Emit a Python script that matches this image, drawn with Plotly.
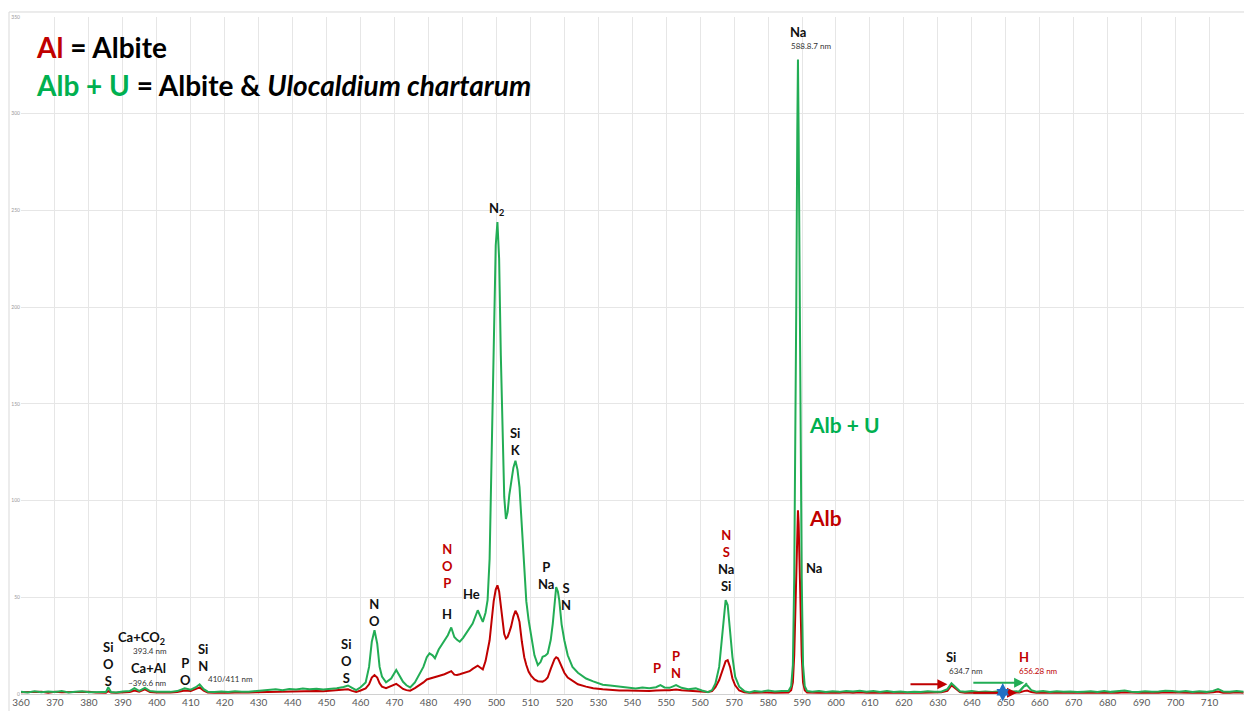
import plotly.graph_objects as go

# ---------------- data ----------------
wavelength = [
    360, 362, 364, 366, 368, 370, 372, 374, 376, 378, 380, 382, 384,
    385, 385.7, 386.5, 388, 390, 392, 393.4, 394.8, 396.5, 398, 400, 402, 404, 406,
    408.2, 410, 411.5, 412.6, 413.8, 415, 417, 419, 421, 423, 425, 427, 429, 431,
    433, 435, 437, 439, 441, 443, 445, 447, 449, 451, 453, 455, 456.3, 457.5, 458.7,
    460, 461.5, 462.5, 463.3, 464.1, 464.9, 465.6, 466.3, 467.5, 469, 470.5, 471.5,
    472.5, 473.5, 474.6, 476, 477.4, 478.5, 479.5, 480.3, 481.2, 481.9, 483, 484.7,
    485.7, 486.7, 487.6, 488.4, 489.2, 490.2, 491.1, 492.1, 493, 494.5, 495.3, 496,
    496.8, 497.4, 498, 498.6, 499.2, 499.8, 500.3, 500.8, 501.3, 501.8, 502.3, 502.8,
    503.3, 503.8, 504.3, 505, 505.6, 506.2, 506.8, 507.5, 508.2, 508.8, 509.5, 510.2,
    511.2, 512.2, 513.0, 513.6, 514.4, 515.1, 516, 516.6, 517.1, 517.6, 518.1, 518.5,
    519.2, 520, 521, 522.4, 524, 526.4, 528.5, 531.3, 533.5, 536.2, 538.5, 541, 543,
    545, 547, 548.3, 549.5, 551, 552.9, 554.5, 556.5, 558.7, 560.5, 562.3, 563.5,
    564.5, 565.6, 566.5, 567.5, 568.1, 568.8, 569.5, 570.3, 571.5, 573, 574.5, 576,
    578, 580, 582, 584, 586, 586.8, 587.3, 587.7, 588.0, 588.3, 588.6, 588.8, 589.0,
    589.3, 589.6, 589.9, 590.3, 590.8, 591.5, 593, 595, 597, 599, 601, 603, 605, 607,
    609, 611, 613, 615, 617, 619, 621, 623, 625, 627, 629, 631, 632.8, 634, 635.2,
    636.5, 638, 640, 642, 644, 646, 648, 650, 652, 654, 655.3, 656.3, 657.5, 659, 661,
    663, 665, 667, 669, 671, 673, 675, 677, 679, 681, 683, 685, 687, 689, 691, 693,
    695, 697, 699, 701, 703, 705, 707, 709, 711, 712.5, 714, 716, 718, 720,
]

albite_u = [  # green: Albite & Ulocaldium chartarum
    1.2, 0.8, 1.4, 0.9, 1.3, 1.0, 1.5, 0.8, 1.2, 1.4, 0.9, 1.1, 1.0,
    1.0, 3.5, 1.0, 0.8, 1.3, 1.5, 3.0, 1.6, 3.2, 1.5, 1.2, 1.0, 1.1, 1.5,
    3.0, 2.2, 3.5, 5.0, 2.5, 1.2, 1.0, 1.3, 1.0, 1.4, 1.1, 1.2, 1.5, 1.8,
    2.2, 2.5, 2.0, 2.6, 2.3, 2.8, 2.4, 2.7, 2.3, 2.6, 3.0, 3.6, 4.4, 3.2, 2.0,
    3.5, 6.0, 14, 27, 33, 26, 14, 9, 6, 8, 12.4, 9.5,
    6.3, 4.5, 3.4, 6, 10.7, 14, 19, 21, 20, 18.5, 23, 27.8,
    30.4, 34.4, 29.5, 28, 27, 29, 31.3, 33.5, 36.4, 43.3, 40, 37.3,
    42, 48.5, 70, 120, 185, 232, 244, 225, 175, 135, 102, 90.5,
    94, 103, 109, 117, 120.6, 116, 107, 86, 65.6, 48, 38, 31.3,
    20, 15, 16.5, 19.2, 19.8, 21, 28, 36.4, 48, 55.3, 53, 48.5,
    36, 27.8, 20, 14, 11, 8, 6.5, 4.8, 4.4, 3.8, 3.2, 2.9, 3.3,
    3.0, 3.5, 4.6, 3.4, 3.2, 4.6, 3.2, 2.5, 2.9, 1.8, 0.9, 2.0,
    5.5, 14, 30, 48.5, 46, 32, 19.2, 9, 3.8, 1.5, 0.8, 1.5,
    1.2, 1.8, 1.3, 1.6, 1.5, 4, 15, 60, 120, 200, 290, 328, 290,
    200, 120, 60, 15, 4, 1.5, 1.2, 1.6, 1.0, 1.4, 1.1, 1.5, 1.3, 1.7,
    1.2, 1.5, 1.1, 1.6, 1.0, 1.3, 0.9, 1.2, 1.0, 1.4, 1.1, 1.2, 2.5, 5.5, 3.5,
    1.4, 1.2, 1.5, 1.0, 1.3, 1.0, 1.4, 1.1, 1.3, 1.4, 4.0, 4.5, 2.0, 1.2, 1.5,
    1.0, 1.4, 1.1, 1.3, 1.0, 1.2, 1.4, 1.0, 1.5, 1.1, 1.3, 1.8, 1.2, 1.0, 1.4, 1.1,
    1.3, 1.7, 1.6, 1.2, 1.5, 1.0, 1.4, 1.1, 1.6, 2.6, 1.3, 1.2, 1.6, 1.2,
]

albite = [  # red: Albite
    0.9, 1.0, 0.8, 1.1, 0.7, 1.2, 0.9, 1.0, 0.8, 1.0, 1.1, 0.8, 0.9,
    0.7, 1.5, 0.8, 0.6, 0.9, 1.0, 1.8, 1.2, 2.4, 1.0, 0.8, 0.7, 0.8, 1.0,
    1.8, 1.5, 2.5, 3.4, 1.8, 0.8, 0.6, 0.8, 0.7, 0.8, 0.7, 0.8, 0.9, 1.0,
    1.1, 1.3, 1.2, 1.4, 1.3, 1.5, 1.4, 1.5, 1.4, 1.6, 1.8, 2.0, 2.4, 1.6, 1.0,
    1.8, 2.9, 5, 8.5, 9.8, 8.5, 5.5, 3.8, 3.0, 4.0, 5.2, 4.0,
    2.6, 2.0, 1.7, 3.0, 4.6, 6, 7.5, 8, 8.5, 8.8, 9.3, 10.2,
    11, 11.8, 10, 9.8, 10.2, 10.8, 11, 11.8, 13, 14.6, 13.6, 12.7,
    17, 22, 27.8, 38, 48, 54, 56.2, 53, 46, 38, 31, 28.7,
    29.5, 32, 34.7, 40, 43, 41, 37.3, 27, 19, 15, 11.5, 9.5,
    7.5, 6.6, 6.4, 6.4, 7.2, 8.5, 13, 16, 18, 19, 18.5, 17,
    14.5, 11, 8.5, 7.0, 5.0, 3.8, 3.0, 2.4, 2.0, 1.8, 1.8, 1.6, 1.7,
    1.6, 1.8, 2.0, 1.9, 1.9, 2.3, 1.9, 1.7, 1.6, 1.3, 1.0, 1.5,
    3.5, 7.2, 12, 17, 17.5, 14, 8, 4.5, 1.8, 0.9, 0.7, 0.8,
    0.7, 0.8, 0.7, 0.9, 0.8, 2, 6, 20, 40, 65, 88, 95, 88,
    65, 40, 20, 6, 2, 0.8, 0.6, 0.7, 0.6, 0.8, 0.6, 0.9, 0.7, 0.9,
    0.7, 0.8, 0.6, 0.8, 0.6, 0.7, 0.6, 0.7, 0.6, 0.7, 0.8, 0.9, 1.6, 4.5, 2.8,
    1.0, 0.7, 0.8, 0.6, 0.7, 0.6, 0.8, 0.6, 0.7, 0.8, 1.5, 1.8, 1.0, 0.7, 0.8,
    0.6, 0.8, 0.6, 0.7, 0.6, 0.7, 0.8, 0.6, 0.8, 0.7, 0.6, 0.9, 0.7, 0.6, 0.8, 0.7,
    0.6, 0.9, 0.8, 0.7, 0.8, 0.6, 0.8, 0.6, 0.9, 1.3, 0.7, 0.6, 0.9, 0.7,
]

x_ticks = list(range(360, 721, 10))
y_ticks = [0, 50, 100, 150, 200, 250, 300, 350]

RED = "#c00000"
GREEN_LINE = "#22ad55"
GREEN_TXT = "#00b050"
FONT = "Lato"

# ---------------- figure ----------------
fig = go.Figure()
fig.add_trace(go.Scatter(x=wavelength, y=albite, mode="lines",
                         line=dict(color=RED, width=2), name="Alb",
                         showlegend=False))
fig.add_trace(go.Scatter(x=wavelength, y=albite_u, mode="lines",
                         line=dict(color=GREEN_LINE, width=2), name="Alb + U",
                         showlegend=False))

annots = []


def lab(x, y, text, size=13, color="#111111", bold=True, xanchor="center",
        yanchor="middle"):
    t = f"<b>{text}</b>" if bold else text
    annots.append(dict(x=x, y=y, xref="x", yref="y", text=t, showarrow=False,
                       xanchor=xanchor, yanchor=yanchor,
                       font=dict(family=FONT, size=size, color=color)))


def red(s):
    return f"<span style='color:{RED}'>{s}</span>"


# peak labels
lab(588.7, 342.5, "Na")
lab(592.6, 335, "588.8.7 nm", size=8, color="#333333", bold=False)
lab(500.1, 250.5, "N<sub>2</sub>")
lab(505.7, 130.5, "Si<br>K")
lab(567.6, 69.2, red("N") + "<br>" + red("S") + "<br>Na<br>Si")
lab(514.7, 61.5, "P<br>Na")
lab(520.5, 50.2, "S<br>N")
lab(492.8, 51.5, "He")
lab(485.5, 66.0, red("N") + "<br>" + red("O") + "<br>" + red("P"))
lab(485.5, 41.2, "H")
lab(464.1, 42.0, "N<br>O")
lab(455.9, 17.0, "Si<br>O<br>S")
lab(413.6, 19.0, "Si<br>N")
lab(421.6, 7.8, "410/411 nm", size=8, color="#333333", bold=False)
lab(408.4, 11.6, "P<br>O")
lab(397.6, 13.6, "Ca+Al")
lab(397.2, 5.8, "~396.6 nm", size=8, color="#333333", bold=False)
lab(395.6, 29.0, "Ca+CO<sub>2</sub>")
lab(397.9, 22.0, "393.4 nm", size=8, color="#333333", bold=False)
lab(385.9, 15.4, "Si<br>O<br>S")
lab(547.3, 13.4, "P", color=RED)
lab(552.9, 15.3, "P<br>N", color=RED)
lab(633.8, 19.0, "Si")
lab(638.3, 11.8, "634.7 nm", size=8, color="#333333", bold=False)
lab(655.3, 19.0, "H", color=RED)
lab(659.5, 11.8, "656.28 nm", size=8, color=RED, bold=False)
lab(593.6, 65.4, "Na")
lab(591.6, 139.5, "Alb + U", size=21, color=GREEN_TXT, xanchor="left")
lab(591.6, 91.0, "Alb", size=21, color=RED, xanchor="left")

# key in the upper left
annots.append(dict(x=0.011, y=0.956, xref="paper", yref="paper", xanchor="left",
                   yanchor="middle", showarrow=False,
                   text=f"<b><span style='color:{RED}'>Al</span> = Albite</b>",
                   font=dict(family=FONT, size=28, color="#000000")))
annots.append(dict(x=0.011, y=0.900, xref="paper", yref="paper", xanchor="left",
                   yanchor="middle", showarrow=False,
                   text=(f"<b><span style='color:{GREEN_TXT}'>Alb + U</span> = "
                         "Albite &amp; <i>Ulocaldium chartarum</i></b>"),
                   font=dict(family=FONT, size=28, color="#000000")))

# arrows
annots.append(dict(x=632.8, y=5.1, ax=621.5, ay=5.1, xref="x", yref="y",
                   axref="x", ayref="y", text="", showarrow=True, arrowhead=2,
                   arrowsize=1, arrowwidth=2, arrowcolor=RED))
annots.append(dict(x=655.4, y=5.8, ax=640.0, ay=5.8, xref="x", yref="y",
                   axref="x", ayref="y", text="", showarrow=True, arrowhead=2,
                   arrowsize=1, arrowwidth=2, arrowcolor=GREEN_LINE))
annots.append(dict(x=653.3, y=0.6, ax=640.0, ay=0.6, xref="x", yref="y",
                   axref="x", ayref="y", text="", showarrow=True, arrowhead=2,
                   arrowsize=1, arrowwidth=2, arrowcolor=RED))
annots.append(dict(x=649.1, y=-0.011, ax=0, ay=-20, xref="x", yref="paper",
                   text="", showarrow=True, arrowhead=2, startarrowhead=2,
                   arrowside="end+start", arrowsize=1, arrowwidth=2.5,
                   arrowcolor="#1f6fc4"))

fig.add_shape(type="line", xref="x", yref="y", x0=653.8, y0=0.9, x1=656.2, y1=5.6,
              line=dict(color=GREEN_LINE, width=2))
# chart area border (top and left visible)
fig.add_shape(type="line", xref="paper", yref="paper", x0=-0.0098, x1=1.0,
              y0=1.0074, y1=1.0074, line=dict(color="#d9d9d9", width=1))
fig.add_shape(type="line", xref="paper", yref="paper", x0=-0.0098, x1=-0.0098,
              y0=-0.03, y1=1.0074, line=dict(color="#d9d9d9", width=1))

fig.update_layout(
    width=1244, height=711,
    margin=dict(l=21, r=0, t=17, b=17),
    paper_bgcolor="white", plot_bgcolor="white",
    font=dict(family=FONT),
    annotations=annots,
    showlegend=False,
)
fig.update_xaxes(range=[360, 720.15], tickvals=x_ticks, ticktext=[str(v) for v in x_ticks],
                 showgrid=True, gridcolor="#e6e6e6", gridwidth=1,
                 zeroline=False, showline=True, linecolor="#d0d0d0",
                 ticks="", ticklabelstandoff=-1,
                 tickfont=dict(size=10, color="#595959", family=FONT),
                 automargin=False)
fig.update_yaxes(range=[0, 350], tickvals=y_ticks,
                 showgrid=True, gridcolor="#e6e6e6", gridwidth=1,
                 zeroline=False, showline=False,
                 ticks="", tickfont=dict(size=5, color="#9a9a9a", family=FONT),
                 automargin=False)

fig.write_html("out.html",
               config={"displayModeBar": False},
               post_script="document.body.style.margin='0';document.body.style.overflow='hidden';")
